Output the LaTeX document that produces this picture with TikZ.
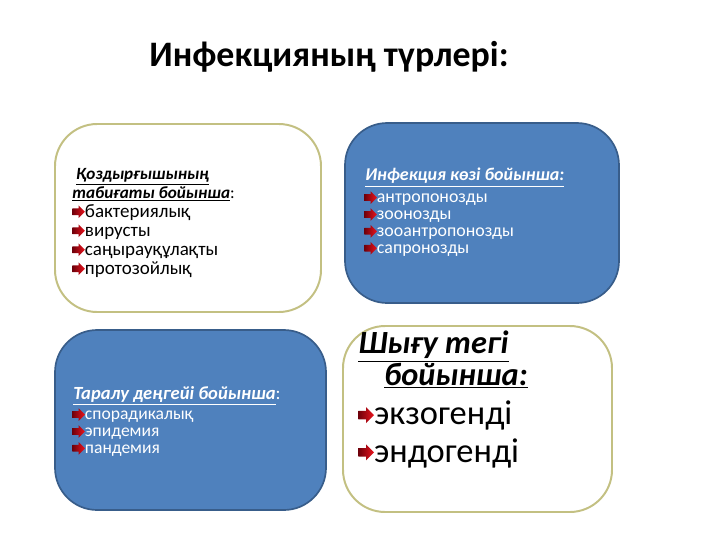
\documentclass[tikz,border=0pt]{standalone}
\usepackage{fontspec}
\setmainfont{Carlito}
\usepackage{tikz}
\usetikzlibrary{positioning, calc}
\definecolor{boxblue}{RGB}{79,129,189}
\definecolor{boxedge}{RGB}{56,93,138}
\definecolor{olive}{RGB}{195,192,130}
\definecolor{arrred}{RGB}{235,20,30}
\definecolor{arrdark}{RGB}{110,0,10}
\newcommand{\arr}[1][1]{\tikz[baseline=-0.6ex,x=#1pt,y=#1pt]\shade[left color=arrdark, right color=arrred] (0,-2.4) -- (4.5,-2.4) -- (4.5,-4.5) -- (9,0) -- (4.5,4.5) -- (4.5,2.4) -- (0,2.4) -- cycle;}
\newcommand{\hd}[1]{\underline{\textit{\textbf{#1}}}}
\tikzset{>=stealth,
  whitebox/.style={draw=olive, line width=1.4pt, fill=white, rounded corners=30},
  bluebox/.style={draw=boxedge, line width=1.2pt, fill=boxblue, rounded corners=30},
  lst/.style={anchor=north west, align=left, inner sep=0pt}}

\begin{document}
\begin{tikzpicture}[x=0.025cm, y=-0.025cm]
			\useasboundingbox (0,0) rectangle (720,540);

			\node (title) at (329,57) {\fontsize{25.5}{30}\selectfont\bfseries Инфекцияның түрлері:};

			\draw[whitebox] (55,124) rectangle (321,312);
			\draw[bluebox] (345,123) rectangle (619,303);
			\draw[bluebox] (55,330) rectangle (326,510);
			\draw[whitebox] (343,326) rectangle (612,512);

			% top left
			\node[lst, font=\fontsize{12.2}{13.5}\selectfont] (agenthd) at (72,168)
				{\ \hd{Қоздырғышының}\\ \hd{табиғаты бойынша}:};
			\node[lst, font=\fontsize{13.5}{13.5}\selectfont] (agent) at (72,204)
				{\arr бактериялық\\ \arr вирусты\\ \arr саңырауқұлақты\\ \arr протозойлық};

			% top right
			\node[lst, text=white, font=\fontsize{12.8}{12}\selectfont] (sourcehd) at (365,168)
				{\hd{Инфекция көзі бойынша:}};
			\node[lst, text=white, font=\fontsize{12.7}{12}\selectfont] (source) at (364,191)
				{\arr антропонозды\\ \arr зоонозды\\ \arr зооантропонозды\\ \arr сапронозды};

			% bottom left
			\node[lst, text=white, font=\fontsize{13.2}{12}\selectfont] (spreadhd) at (73,386)
				{\hd{Таралу деңгейі бойынша}:};
			\node[lst, text=white, font=\fontsize{12.5}{12}\selectfont] (spread) at (72,408)
				{\arr спорадикалық\\ \arr эпидемия\\ \arr пандемия};

			% bottom right
			\node[lst, font=\fontsize{23}{21}\selectfont] (originhd) at (358,331)
				{\hd{Шығу тегі}\\ \hspace{0.8em}\hd{бойынша:}};
			\node[lst, font=\fontsize{24.5}{26.5}\selectfont] (origin) at (358,401)
				{\arr[1.25]экзогенді\\ \arr[1.25]эндогенді};

\end{tikzpicture}
\end{document}
